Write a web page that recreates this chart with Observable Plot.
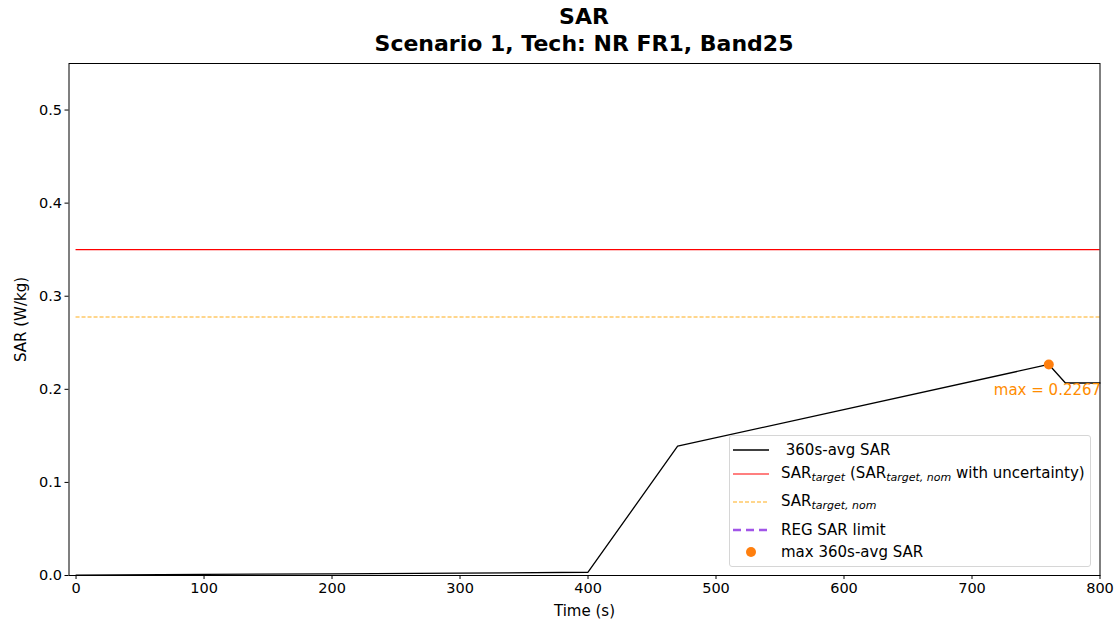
<!DOCTYPE html>
<html>
<head>
<meta charset="utf-8">
<script src="https://cdn.jsdelivr.net/npm/d3@7"></script>
<script src="https://cdn.jsdelivr.net/npm/@observablehq/plot@0.6"></script>
<style>
  body { margin: 0; background: #fff; font-family: "DejaVu Sans", sans-serif; }
  #wrap { position: relative; width: 1116px; height: 624px; }
  #titles { height: 58px; text-align: center; font-weight: bold; font-size: 22px; line-height: 27px; padding-left: 52px; box-sizing: border-box; padding-top: 3px; }
  #legend { position: absolute; left: 729px; top: 435px; width: 362px; height: 132px; box-sizing: border-box;
            border: 1px solid #d6d6d6; border-radius: 3px; background: rgba(255,255,255,0.85); font-size: 15px; color: #000; }
  .row { position: absolute; left: 0; height: 20px; display: flex; align-items: center; white-space: nowrap; }
  .row svg { margin-left: 3px; margin-right: 12px; }
  .row sub { font-style: italic; font-size: 11px; vertical-align: -3px; }
</style>
</head>
<body>
<div id="wrap">
  <div id="titles"><div>SAR</div><div>Scenario 1, Tech: NR FR1, Band25</div></div>
  <div id="chart"></div>
  <div id="legend"></div>
</div>
<script>
// Data
const time = [0, 100, 200, 300, 400, 470, 760, 773, 800];
const sarAvg = [0.0004, 0.0012, 0.0018, 0.0025, 0.0035, 0.139, 0.2267, 0.2068, 0.2068];
const sarTarget = 0.35;
const sarTargetNom = 0.2778;
const maxTime = 760;
const maxSar = 0.2267;
const xTicks = [0, 100, 200, 300, 400, 500, 600, 700, 800];
const yTicks = [0.0, 0.1, 0.2, 0.3, 0.4, 0.5];
const legendLabels = ["360s-avg SAR", "SAR<sub>target</sub> (SAR<sub>target, nom</sub> with uncertainty)", "SAR<sub>target, nom</sub>", "REG SAR limit", "max 360s-avg SAR"];

const series = time.map((t, i) => ({t, v: sarAvg[i]}));

const chart = Plot.plot({
  width: 1116,
  height: 566,
  marginTop: 5,
  marginBottom: 49,
  marginLeft: 68.5,
  marginRight: 16.5,
  style: {fontFamily: "DejaVu Sans, sans-serif", fontSize: "14.5px", color: "#000", background: "#fff"},
  x: {domain: [-5.5, 800]},
  y: {domain: [0, 0.55]},
  marks: [
    Plot.ruleY([sarTarget], {x1: 0, x2: 800, stroke: "#ff0000", strokeWidth: 1.2}),
    Plot.ruleY([sarTargetNom], {x1: 0, x2: 800, stroke: "orange", strokeOpacity: 0.6, strokeWidth: 1.5, strokeDasharray: "4,2"}),
    Plot.line(series, {x: "t", y: "v", stroke: "black", strokeWidth: 1.3}),
    Plot.dot([{t: maxTime, v: maxSar}], {x: "t", y: "v", r: 5, fill: "#ff7f0e", stroke: "none"}),
    Plot.text([{t: maxTime, v: maxSar}], {x: "t", y: "v", text: d => "max = " + d.v, dx: -55, dy: 26, textAnchor: "start", fill: "#ff8c00", fontSize: 15, clip: true}),
    Plot.frame({stroke: "black", strokeWidth: 1}),
    Plot.axisX({ticks: xTicks, tickFormat: d => String(d), tickSize: 4, tickPadding: 3, fontSize: 14.5, label: "Time (s)", labelAnchor: "center", labelArrow: "none", labelOffset: 40}),
    Plot.axisY({ticks: yTicks, tickFormat: d => d.toFixed(1), tickSize: 4, tickPadding: 3, fontSize: 14.5, label: "SAR (W/kg)", labelAnchor: "center", labelArrow: "none", labelOffset: 54})
  ]
});
chart.querySelectorAll("[aria-label='x-axis label'] text, [aria-label='y-axis label'] text").forEach(t => t.setAttribute("font-size", 15));
document.getElementById("chart").appendChild(chart);

// Legend
const legend = document.getElementById("legend");
const samples = [
  '<line x1="0" y1="10" x2="36" y2="10" stroke="#000" stroke-width="1.5"/>',
  '<line x1="0" y1="10" x2="36" y2="10" stroke="red" stroke-width="1.2"/>',
  '<line x1="0" y1="10" x2="36" y2="10" stroke="orange" stroke-opacity="0.6" stroke-width="1.5" stroke-dasharray="4,2"/>',
  '<line x1="0" y1="10" x2="36" y2="10" stroke="#8a2be2" stroke-opacity="0.8" stroke-width="2.5" stroke-dasharray="8,5"/>',
  '<circle cx="18" cy="10" r="5" fill="#ff7f0e"/>'
];
const rowsY = [4, 28, 56, 84, 106];
legendLabels.forEach((lab, i) => {
  const r = document.createElement("div");
  r.className = "row";
  r.style.top = rowsY[i] + "px";
  r.innerHTML = '<svg width="36" height="20">' + samples[i] + '</svg><span>' + (i === 0 ? "&nbsp;" : "") + lab + '</span>';
  legend.appendChild(r);
});
</script>
</body>
</html>
